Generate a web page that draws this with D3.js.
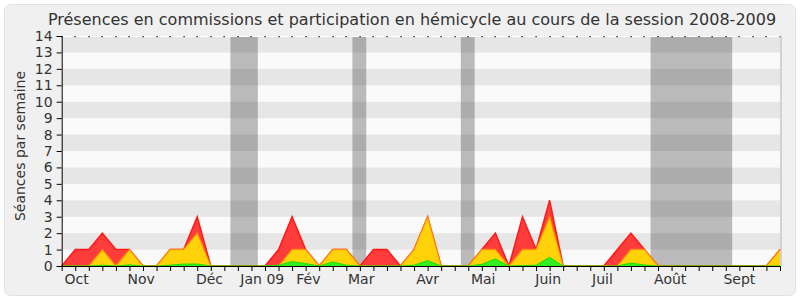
<!DOCTYPE html>
<html><head><meta charset="utf-8">
<script src="https://cdn.jsdelivr.net/npm/d3@7"></script>
<style>body{margin:0;background:#fff}svg{display:block}text{font-family:"DejaVu Sans",sans-serif;fill:#333}</style>
</head><body><svg id="c" width="800" height="300"></svg>
<script>
// Weekly values, weeks 0..53 (Oct 2008 - Sept 2009)
const weeks = d3.range(54);
const commissionPresence = [0,1,1,2,1,1,0,0,1,1,3,0,0,0,0,0,1,3,1,0,1,1,0,1,1,0,1,3,0,0,0,1,2,0,3,1,4,0,0,0,0,1,2,1,0,0,0,0,0,0,0,0,0,1];
const commissionInterventions = [0,0,0,1,0,1,0,0,1,1,2,0,0,0,0,0,0,1,1,0,1,1,0,0,0,0,1,3,0,0,0,1,1,0,1,1,3,0,0,0,0,0,1,1,0,0,0,0,0,0,0,0,0,1];
const hemicycle = [0,0,0,0.05,0,0.07,0,0,0.05,0.12,0.12,0,0,0,0,0,0.05,0.27,0.15,0,0.25,0.05,0,0,0,0,0.05,0.33,0,0,0,0.1,0.43,0,0.03,0.05,0.53,0,0,0,0,0,0.18,0.06,0,0,0,0,0,0,0,0,0,0];
const vacations = [[13,14],[22,22],[30,30],[44,49]];
const monthLabels = ["Oct","Nov","Déc","Jan 09","Fév","Mar","Avr","Mai","Juin","Juil","Août","Sept"];
const monthPos = [1.1,5.87,10.9,14.8,18.2,22.1,27,31.1,35.9,39.9,44.9,50];
const yTicks = d3.range(15);
const title = "Présences en commissions et participation en hémicycle au cours de la session 2008-2009";
const yTitle = "Séances par semaine";

const svg = d3.select("#c");
const L=61.7, R=780, T=36, B=266;
const x = d3.scaleLinear().domain([0,53]).range([L,R]);
const y = d3.scaleLinear().domain([0,14]).range([B,T]);

// panel
svg.append("rect").attr("x",4.5).attr("y",4.5).attr("width",791).attr("height",291).attr("rx",6)
  .attr("fill","#f0f0f0").attr("stroke","#e2e2e2");

// bands
yTicks.slice(0,14).forEach(v=>{
  svg.append("rect").attr("x",L).attr("width",R-L).attr("y",y(v+1)).attr("height",y(v)-y(v+1))
    .attr("fill", v%2===1 ? "#e6e6e6" : "#fafafa");
});
// vacations
vacations.forEach(([a,b])=>{
  svg.append("rect").attr("x",x(a-0.55)).attr("width",x(b+0.47)-x(a-0.55)).attr("y",T).attr("height",B-T)
    .attr("fill","rgb(40,40,40)").attr("fill-opacity",0.3);
});
// top border with dots
svg.append("line").attr("x1",L).attr("x2",R).attr("y1",T+0.5).attr("y2",T+0.5).attr("stroke","#fff");
svg.selectAll(".dot").data(weeks).join("rect").attr("x",d=>Math.round(x(d))-0.5).attr("y",T).attr("width",1.2).attr("height",1.2).attr("fill","#000");
// right shadow
svg.append("line").attr("x1",R+1).attr("x2",R+1).attr("y1",T).attr("y2",B).attr("stroke","#c8c8c8").attr("stroke-width",1.5);

const area = arr => d3.area().x((d,i)=>x(i)).y0(y(0)).y1(d=>y(d))(arr);
const line = arr => d3.line().x((d,i)=>x(i)).y(d=>y(d))(arr);

svg.append("path").attr("d",area(commissionPresence)).attr("fill","#ff3c3c");
svg.append("path").attr("d",line(commissionPresence)).attr("fill","none").attr("stroke","#ff1a1a").attr("stroke-width",1.5);
svg.append("path").attr("d",area(commissionInterventions)).attr("fill","#ffd20a");
svg.append("path").attr("d",line(commissionInterventions)).attr("fill","none").attr("stroke","rgb(255,150,0)").attr("stroke-opacity",0.7).attr("stroke-width",1.5);
svg.append("path").attr("d",area(hemicycle)).attr("fill","#33ee22");
svg.append("path").attr("d",line(hemicycle)).attr("fill","none").attr("stroke","#22dd00").attr("stroke-width",1);

// axes
const yAxis = svg.append("g").attr("transform",`translate(${L},0)`)
  .call(d3.axisLeft(y).tickValues(yTicks).tickSize(5).tickPadding(4));
yAxis.select(".domain").attr("stroke","#000");
yAxis.selectAll("text").attr("font-size",14).attr("fill","#333").attr("font-family","DejaVu Sans");
yAxis.selectAll(".tick line").attr("stroke","#000");

const xAxis = svg.append("g").attr("transform",`translate(0,${B})`)
  .call(d3.axisBottom(x).tickValues(weeks).tickSize(5).tickFormat(""));
xAxis.select(".domain").attr("stroke","#000").attr("d",`M${L},0.5H${R}`);
xAxis.selectAll(".tick line").attr("stroke","#000");

svg.selectAll(".ml").data(monthLabels).join("text").attr("class","ml")
  .attr("x",(d,i)=>x(monthPos[i])).attr("y",283.5).attr("text-anchor","middle").attr("font-size",14).text(d=>d);

svg.append("text").attr("x",412).attr("y",25).attr("text-anchor","middle").attr("font-size",16).text(title);
svg.append("text").attr("transform","translate(25,146) rotate(-90)").attr("text-anchor","middle").attr("font-size",14).text(yTitle);
</script></body></html>
